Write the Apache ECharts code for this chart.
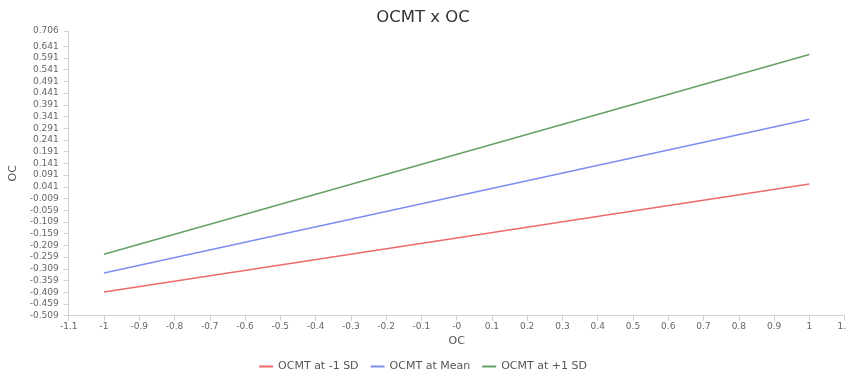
<!DOCTYPE html>
<html>
<head>
<meta charset="utf-8">
<script src="https://cdn.jsdelivr.net/npm/echarts@6/dist/echarts.min.js"></script>
<style>
html,body{margin:0;padding:0;background:#fff;}
#chart{width:846px;height:372px;}
</style>
</head>
<body>
<div id="chart"></div>
<script>
var xValues = [-1, 1];
var lowSD = [-0.408, 0.053];
var meanSD = [-0.327, 0.329];
var highSD = [-0.247, 0.606];
var seriesNames = ['OCMT at -1 SD', 'OCMT at Mean', 'OCMT at +1 SD'];
var yTicks = [-0.509, -0.459, -0.409, -0.359, -0.309, -0.259, -0.209, -0.159, -0.109, -0.059, -0.009,
  0.041, 0.091, 0.141, 0.191, 0.241, 0.291, 0.341, 0.391, 0.441, 0.491, 0.541, 0.591, 0.641, 0.706];
var colors = ['#f06a6a', '#7b8ef2', '#66a066'];

function pairs(ys) { return xValues.map(function (x, i) { return [x, ys[i]]; }); }

var FONT = 'DejaVu Sans';
var chart = echarts.init(document.getElementById('chart'), null, {renderer: 'canvas'});
chart.setOption({
  animation: false,
  color: colors,
  textStyle: {fontFamily: FONT},
  title: {
    text: 'OCMT x OC', left: 'center', top: 4,
    textStyle: {fontSize: 16.5, fontWeight: 'normal', color: '#333', fontFamily: FONT}
  },
  legend: {
    bottom: 0, left: 'center', padding: [0, 5, 0, 5], icon: 'rect', itemWidth: 14, itemHeight: 2, itemGap: 12,
    textStyle: {fontSize: 11, color: '#555', fontFamily: FONT},
    data: seriesNames
  },
  grid: {left: 68.7, right: 1.4, top: 31, bottom: 56.3, containLabel: false, outerBoundsMode: 'none'},
  xAxis: {
    type: 'value', min: -1.1, max: 1.1, interval: 0.1,
    name: 'OC', nameLocation: 'middle', nameGap: 14,
    nameTextStyle: {fontSize: 11, color: '#555', fontFamily: FONT},
    axisLine: {show: true, onZero: false, lineStyle: {color: '#d0d0d0'}},
    axisTick: {show: true, length: 5, lineStyle: {color: '#d0d0d0'}},
    axisLabel: {
      fontSize: 9, color: '#666', margin: 6, showMaxLabel: true, showMinLabel: true, hideOverlap: false,
      formatter: function (v) {
        if (Math.abs(v) < 1e-9) return '-0';
        return String(Math.round(v * 10) / 10);
      }
    },
    splitLine: {show: false}
  },
  yAxis: {
    type: 'value', min: -0.509, max: 0.706,
    name: 'OC', nameLocation: 'middle', nameGap: 50,
    nameTextStyle: {fontSize: 11, color: '#555', fontFamily: FONT},
    axisLine: {show: true, onZero: false, lineStyle: {color: '#d0d0d0'}},
    axisTick: {show: true, length: 5, lineStyle: {color: '#d0d0d0'}, customValues: yTicks},
    axisLabel: {
      fontSize: 9, color: '#666', margin: 10, customValues: yTicks,
      formatter: function (v) { return v.toFixed(3); }
    },
    splitLine: {show: false}
  },
  series: [
    {name: seriesNames[0], type: 'line', data: pairs(lowSD), showSymbol: false, lineStyle: {width: 1.5}},
    {name: seriesNames[1], type: 'line', data: pairs(meanSD), showSymbol: false, lineStyle: {width: 1.5}},
    {name: seriesNames[2], type: 'line', data: pairs(highSD), showSymbol: false, lineStyle: {width: 1.5}}
  ]
});
</script>
</body>
</html>
